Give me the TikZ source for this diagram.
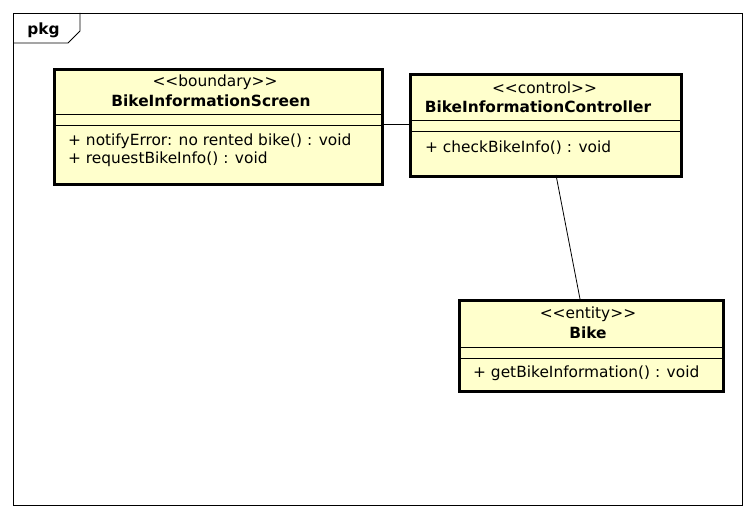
\documentclass[tikz,border=0pt]{standalone}
\usepackage{fontspec}
\setmainfont{DejaVu Sans}
\definecolor{umlfill}{HTML}{FFFFCC}
\begin{document}
\begin{tikzpicture}[x=1pt,y=-1pt,
  classbox/.style={draw=black,line width=2.6pt,fill=umlfill,inner sep=0pt,anchor=north west},
  sep/.style={draw=black,line width=0.8pt},
  txt/.style={inner sep=0pt,font=\fontsize{15.4}{18}\selectfont},
  bold/.style={inner sep=0pt,font=\fontsize{15.4}{18}\selectfont\bfseries},
  meth/.style={txt,anchor=west},
  conn/.style={draw=black,line width=0.8pt}]
\useasboundingbox (0,0) rectangle (756,518);
\fill[white] (0,0) rectangle (756,518);
% frame
\draw[line width=0.8pt] (13,13) rectangle (742,505);
\draw[line width=0.8pt] (13,43) -- (68,43) -- (80,31) -- (80,13);
\node[bold] (pkg) at (43.5,30) {pkg};
% Boundary
\node[classbox,minimum width=328pt,minimum height=115pt] (scr) at (53,68) {};
\draw[sep] (53,114) -- (381,114);
\draw[sep] (53,125) -- (381,125);
\node[txt] (scrst) at (215,82) {<{}<boundary>{}>};
\node[bold] (scrnm) at (211,101) {BikeInformationScreen};
\node[meth] (scrm1) at (68,141) {+ notifyError: no rented bike() : void};
\node[meth] (scrm2) at (68,159) {+ requestBikeInfo() : void};
% Control
\node[classbox,minimum width=271pt,minimum height=102pt] (ctl) at (409,73) {};
\draw[sep] (409,120) -- (680,120);
\draw[sep] (409,131) -- (680,131);
\node[txt] (ctlst) at (544.5,88) {<{}<control>{}>};
\node[bold] (ctlnm) at (538,107) {BikeInformationController};
\node[meth] (ctlm1) at (425,148) {+ checkBikeInfo() : void};
% Entity
\node[classbox,minimum width=264pt,minimum height=91pt] (bike) at (458,299) {};
\draw[sep] (458,347) -- (722,347);
\draw[sep] (458,358) -- (722,358);
\node[txt] (bikest) at (588,314) {<{}<entity>{}>};
\node[bold] (bikenm) at (588,333) {Bike};
\node[meth] (bikem1) at (473,373) {+ getBikeInformation() : void};
% connectors
\coordinate (c1a) at (381,124);
\coordinate (c1b) at (409,124);
\draw[conn] (c1a) -- (c1b);
\coordinate (c2a) at (556,175);
\coordinate (c2b) at (580,299);
\draw[conn] (c2a) -- (c2b);
\end{tikzpicture}
\end{document}
